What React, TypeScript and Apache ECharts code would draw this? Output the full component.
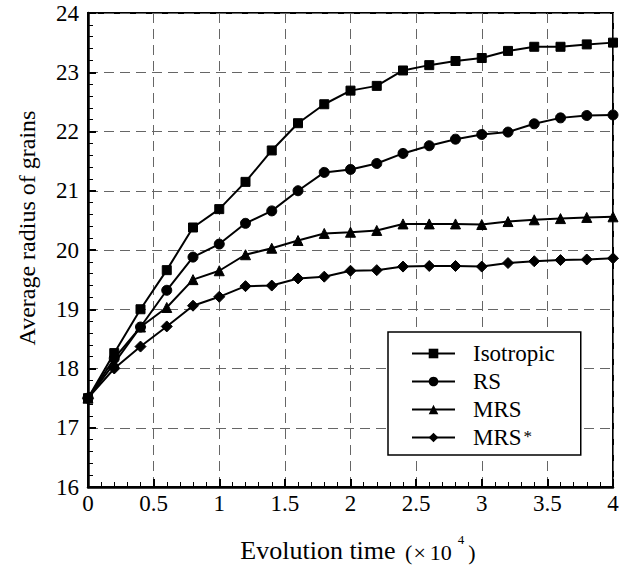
import React, { useEffect, useRef } from "react";
import * as echarts from "echarts";

const xValues = [0, 0.2, 0.4, 0.6, 0.8, 1.0, 1.2, 1.4, 1.6, 1.8, 2.0, 2.2, 2.4, 2.6, 2.8, 3.0, 3.2, 3.4, 3.6, 3.8, 4.0];
const isotropic = [17.5, 18.26, 19.0, 19.66, 20.38, 20.69, 21.15, 21.68, 22.14, 22.46, 22.69, 22.77, 23.03, 23.12, 23.19, 23.24, 23.36, 23.43, 23.43, 23.47, 23.5];
const rs = [17.5, 18.17, 18.7, 19.32, 19.88, 20.1, 20.45, 20.66, 21.0, 21.31, 21.36, 21.46, 21.63, 21.76, 21.87, 21.95, 21.99, 22.13, 22.23, 22.27, 22.28];
const mrs = [17.5, 18.09, 18.7, 19.03, 19.5, 19.65, 19.92, 20.03, 20.16, 20.28, 20.3, 20.33, 20.44, 20.44, 20.44, 20.43, 20.48, 20.51, 20.53, 20.55, 20.56];
const mrsStar = [17.5, 18.0, 18.37, 18.71, 19.06, 19.21, 19.39, 19.4, 19.52, 19.55, 19.65, 19.66, 19.72, 19.73, 19.73, 19.72, 19.78, 19.81, 19.83, 19.84, 19.86];

const seriesNames = ["Isotropic", "RS", "MRS", "MRS*"];
const seriesSymbols = ["rect", "circle", "triangle", "diamond"];
const seriesSizes = [9, 10, 10, 11];
const seriesValues = [isotropic, rs, mrs, mrsStar];

const FONT = "'Liberation Serif', 'Times New Roman', serif";

export default function App() {
  const ref = useRef<HTMLDivElement>(null);
  useEffect(() => {
    if (!ref.current) return;
    const chart = echarts.init(ref.current, undefined, { renderer: "svg" });
    chart.setOption({
      animation: false,
      backgroundColor: "#fff",
      grid: {
        show: true,
        left: 88,
        top: 13,
        right: 16,
        bottom: 79,
        borderColor: "#000",
        borderWidth: 2,
        backgroundColor: "transparent",
      },
      xAxis: {
        type: "value",
        min: 0,
        max: 4,
        interval: 0.5,
        axisLine: { show: true, onZero: false, lineStyle: { color: "#000", width: 2.5 } },
        axisTick: { show: true, inside: true, length: 8, lineStyle: { color: "#000", width: 2 } },
        minorTick: { show: true, splitNumber: 5, length: 5, lineStyle: { color: "#000", width: 1 } },
        axisLabel: { color: "#000", fontSize: 23, fontFamily: FONT, margin: 5 },
        splitLine: { show: true, lineStyle: { color: "#666", width: 1, type: [10, 6] } },
      },
      yAxis: {
        type: "value",
        min: 16,
        max: 24,
        interval: 1,
        axisLine: { show: true, onZero: false, lineStyle: { color: "#000", width: 2.5 } },
        axisTick: { show: true, inside: true, length: 8, lineStyle: { color: "#000", width: 2 } },
        minorTick: { show: true, splitNumber: 5, length: 5, lineStyle: { color: "#000", width: 1 } },
        axisLabel: { color: "#000", fontSize: 23, fontFamily: FONT, margin: 9 },
        splitLine: { show: true, lineStyle: { color: "#666", width: 1, type: [10, 6] } },
      },
      legend: {
        show: true,
        orient: "vertical",
        left: 388,
        top: 332,
        itemWidth: 43,
        itemHeight: 12,
        itemGap: 5,
        padding: [10, 26, 6, 23],
        borderColor: "#000",
        borderWidth: 1.5,
        backgroundColor: "#fff",
        textStyle: {
          color: "#000",
          fontSize: 23,
          fontFamily: FONT,
          lineHeight: 20,
          padding: [0, 0, 0, 13],
          rich: {
            a: { fontSize: 23, fontFamily: FONT, color: "#000", lineHeight: 20 },
            s: { fontSize: 17, fontFamily: FONT, color: "#000", lineHeight: 20, verticalAlign: "top", padding: [0, 0, 0, 2] },
          },
        },
        formatter: (name: string) => (name === "MRS*" ? "{a|MRS}{s|*}" : "{a|" + name + "}"),
        data: seriesNames,
      },
      graphic: [
        {
          type: "text",
          x: 27,
          y: 228,
          rotation: Math.PI / 2,
          style: {
            text: "Average radius of grains",
            fontSize: 24,
            fontFamily: FONT,
            fill: "#000",
            textAlign: "center",
            textVerticalAlign: "middle",
          },
        },
        {
          type: "text",
          x: 358,
          y: 548,
          style: {
            text: "{a|Evolution time }{p|(}{x|×}{b|10}{s|4}{q|)}",
            fontFamily: FONT,
            fill: "#000",
            textAlign: "center",
            textVerticalAlign: "middle",
            rich: {
              a: { fontSize: 26, fontFamily: FONT, fill: "#000", lineHeight: 30, verticalAlign: "bottom" },
              p: { fontSize: 22, fontFamily: FONT, fill: "#000", lineHeight: 30, verticalAlign: "bottom", padding: [0, 0, 0, 3] },
              x: { fontSize: 22, fontFamily: FONT, fill: "#000", lineHeight: 30, verticalAlign: "bottom", padding: [0, 4, 0, 1] },
              b: { fontSize: 22, fontFamily: FONT, fill: "#000", lineHeight: 30, verticalAlign: "bottom" },
              s: { fontSize: 13, fontFamily: FONT, fill: "#000", lineHeight: 30, verticalAlign: "top", padding: [0, 2, 0, 6] },
              q: { fontSize: 22, fontFamily: FONT, fill: "#000", lineHeight: 30, verticalAlign: "bottom", padding: [0, 0, 0, 2] },
            },
          },
        },
      ],
      series: seriesNames.map((name, i) => ({
        name,
        type: "line",
        data: xValues.map((x, j) => [x, seriesValues[i][j]]),
        symbol: seriesSymbols[i],
        symbolSize: seriesSizes[i],
        showSymbol: true,
        lineStyle: { color: "#000", width: 2 },
        itemStyle: { color: "#000", borderColor: "#000" },
        emphasis: { disabled: true },
        z: 3,
      })),
    });
    return () => chart.dispose();
  }, []);
  return <div ref={ref} style={{ position: "fixed", left: 0, top: 0, width: 629, height: 566 }} />;
}
